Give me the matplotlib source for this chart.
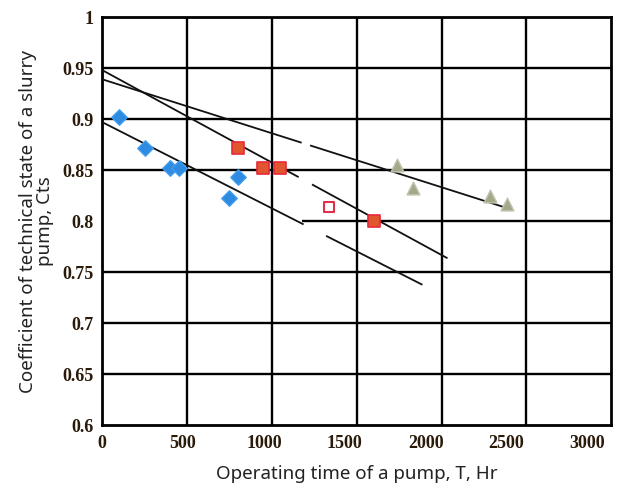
import numpy as np
import matplotlib.pyplot as plt
import matplotlib.transforms as mtransforms

# blue diamonds
t_blue = [100, 250, 400, 450, 750, 800]
c_blue = [0.902, 0.872, 0.852, 0.852, 0.823, 0.843]
# red squares
t_red = [800, 950, 1050, 1600]
c_red = [0.872, 0.852, 0.852, 0.800]
t_red_open = [1335]
c_red_open = [0.814]
# grey-green triangles
t_tri = [1740, 1830, 2285, 2385]
c_tri = [0.855, 0.832, 0.825, 0.817]

# trend lines (start, end) and the broken parts of them
lines = [
    ([0, 2400], [0.939, 0.812], (1170, 1230)),
    ([0, 2030], [0.948, 0.764], (1153, 1241)),
    ([0, 1882], [0.897, 0.738], (1182, 1324)),
]

xticks = [0, 500, 1000, 1500, 2000, 2500, 3000]
yticks = [0.6, 0.65, 0.7, 0.75, 0.8, 0.85, 0.9, 0.95, 1]
ylabels = ['0.6', '0.65', '0.7', '0.75', '0.8', '0.85', '0.9', '0.95', '1']

fig = plt.figure(figsize=(6.27, 4.87), dpi=100)
ax = fig.add_axes([0.163, 0.127, 0.812, 0.838])
ax.set_xlim(0, 3000)
ax.set_ylim(0.6, 1.0)

# grid, the 0.8 line is missing on the left part in the original
for x in xticks[1:-1]:
    ax.axvline(x, color='black', lw=1.7, zorder=1)
for y in yticks[1:-1]:
    if abs(y - 0.8) < 1e-9:
        ax.hlines(y, 1176, 3000, color='black', lw=1.7, zorder=1)
    else:
        ax.axhline(y, color='black', lw=1.7, zorder=1)

for xs, ys, gap in lines:
    xs = np.array(xs, dtype=float)
    ys = np.array(ys, dtype=float)
    k = (ys[1] - ys[0]) / (xs[1] - xs[0])
    ax.plot([xs[0], gap[0]], [ys[0], ys[0] + k * (gap[0] - xs[0])], color='#111111', lw=1.3, zorder=3)
    ax.plot([gap[1], xs[1]], [ys[0] + k * (gap[1] - xs[0]), ys[1]], color='#111111', lw=1.3, zorder=3)

ax.scatter(t_blue, c_blue, marker='D', s=62, color='#2e8be0', edgecolor='#3f9cf0', zorder=4)
ax.scatter(t_red, c_red, marker='s', s=85, color='#e0562e', edgecolor='#e8283c', lw=1.2, zorder=4)
ax.scatter(t_red_open, c_red_open, marker='s', s=60, facecolor='white', edgecolor='#e0304a', lw=1.5, zorder=4)
ax.scatter(t_tri, c_tri, marker='^', s=85, color='#a2a98a', edgecolor='#c0c4ae', zorder=4)

for s in ax.spines.values():
    s.set_linewidth(2)
    s.set_color('black')

ax.set_xticks(xticks)
ax.set_xticklabels([str(x) for x in xticks], fontfamily='Liberation Serif', fontweight='bold', fontsize=13, color='#2a1a0a')
ax.set_yticks(yticks)
ax.set_yticklabels(ylabels, fontfamily='Liberation Serif', fontweight='bold', fontsize=13, color='#2a1a0a')
ax.tick_params(length=0, pad=6)

# the x labels in the original drift left of their grid lines
for i, lab in enumerate(ax.get_xticklabels()):
    off = mtransforms.ScaledTranslation(-0.04 * i, -0.02, fig.dpi_scale_trans)
    lab.set_transform(lab.get_transform() + off)

ax.set_xlabel('Operating time of a pump, T, Hr', fontfamily='Noto Sans', fontsize=13.5, color='#222222', labelpad=9)
ax.set_ylabel('Coefficient of technical state of a slurry\npump, Cts', fontfamily='Noto Sans', fontsize=13.5,
              color='#222222', labelpad=6, linespacing=0.95)

fig.savefig('out.png', dpi=100)
